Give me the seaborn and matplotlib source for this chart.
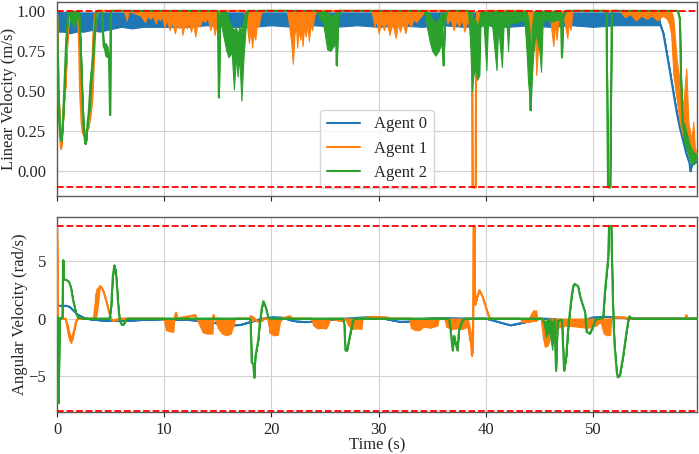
import matplotlib
matplotlib.use("Agg")
import matplotlib.pyplot as plt
import pandas as pd
import seaborn as sns

# ---------------- data (time s, low, high); single value => low == high ----------------
agents = ["Agent 0", "Agent 1", "Agent 2"]
colors = ["#1f77b4", "#ff7f0e", "#2ca02c"]

lin_agent0 = [
    (0.0, 0.95, 1.0), (0.15, 0.87, 1.0), (0.6, 0.87, 0.99), (1.2, 0.86, 1.0), (1.8, 0.87, 0.99),
    (2.5, 0.87, 0.99), (3.2, 0.88, 0.99), (4.0, 0.87, 0.99), (4.6, 0.88, 0.99), (5.3, 0.89, 0.99),
    (6.0, 0.90, 0.99), (7.0, 0.89, 0.99), (8.0, 0.90, 0.99), (9.0, 0.90, 0.99), (10.0, 0.90, 0.99),
    (12.0, 0.90, 0.99), (14.0, 0.91, 0.99), (16.0, 0.90, 0.99), (18.0, 0.90, 0.99), (20.0, 0.91, 0.99),
    (22.0, 0.90, 0.99), (24.0, 0.91, 0.99), (26.0, 0.90, 0.99), (28.0, 0.91, 0.99), (30.0, 0.90, 0.99),
    (32.0, 0.91, 0.99), (34.0, 0.90, 0.99), (36.0, 0.91, 0.99), (38.0, 0.90, 0.99), (40.0, 0.91, 0.99),
    (42.0, 0.90, 0.99), (44.0, 0.91, 0.99), (46.0, 0.90, 0.99), (48.0, 0.91, 0.99), (50.0, 0.90, 0.99),
    (52.0, 0.91, 0.99), (54.0, 0.91, 0.99), (56.1, 0.91, 0.99), (56.3, 0.91), (56.56, 0.86),
    (56.87, 0.74), (57.18, 0.62), (57.5, 0.49), (57.8, 0.37), (58.1, 0.27), (58.4, 0.19),
    (58.7, 0.11), (59.0, 0.05), (59.1, 0.0), (59.2, 0.04), (59.4, 0.05), (59.7, 0.06),
]
lin_agent1 = [
    (0.0, 0.98), (0.05, 0.85), (0.15, 0.5), (0.28, 0.22), (0.37, 0.14), (0.45, 0.2), (0.55, 0.3),
    (0.65, 0.42), (0.8, 0.55), (0.95, 0.8), (1.1, 0.97), (1.2, 0.95, 1.0), (1.6, 0.96, 1.0),
    (1.95, 0.98, 1.0), (2.05, 0.82), (2.15, 0.5), (2.3, 0.3), (2.4, 0.24), (2.55, 0.22), (2.7, 0.25),
    (2.9, 0.27), (3.1, 0.33, 0.45), (3.3, 0.45, 0.85), (3.45, 0.7, 0.98), (3.6, 0.93, 1.0),
    (3.8, 1.0), (6.3, 1.0), (6.5, 0.94, 1.0), (6.7, 1.0), (7.8, 0.97, 1.0),
    (8.2, 0.93, 1.0), (8.45, 0.97, 1.0), (8.7, 0.95, 1.0), (8.95, 0.97, 1.0), (9.2, 0.92, 1.0),
    (9.4, 0.96, 1.0), (9.6, 0.94, 1.0), (9.8, 0.97, 1.0), (10.0, 0.90, 1.0), (10.25, 0.94, 1.0),
    (10.5, 0.88, 1.0), (10.75, 0.93, 1.0), (11.0, 0.86, 1.0), (11.2, 0.92, 1.0), (11.4, 0.89, 1.0),
    (11.55, 0.93, 1.0), (11.7, 0.85, 1.0), (11.9, 0.92, 1.0), (12.1, 0.89, 1.0), (12.3, 0.93, 1.0),
    (12.5, 0.87, 1.0), (12.7, 0.92, 1.0), (12.9, 0.84, 1.0), (13.1, 0.92, 1.0), (13.3, 0.90, 1.0),
    (13.55, 0.95, 1.0), (13.8, 0.93, 1.0), (14.05, 0.96, 1.0), (14.3, 0.88, 1.0), (14.5, 0.93, 1.0),
    (14.7, 0.85, 1.0), (15.0, 0.96, 1.0), (15.3, 1.0), (17.5, 1.0), (17.7, 0.92, 1.0),
    (17.9, 0.80, 1.0), (18.05, 0.88, 1.0), (18.2, 0.77, 1.0), (18.35, 0.86, 1.0), (18.5, 0.82, 1.0),
    (18.65, 0.92, 1.0), (18.8, 0.90, 1.0), (19.0, 0.98, 1.0), (19.2, 1.0), (21.5, 1.0),
    (21.7, 0.88, 1.0), (21.85, 0.80, 1.0), (22.0, 0.67, 1.0), (22.15, 0.85, 1.0), (22.3, 0.90, 1.0),
    (22.4, 0.77, 1.0), (22.55, 0.88, 1.0), (22.7, 0.82, 1.0), (22.8, 0.90, 1.0), (22.9, 0.78, 1.0),
    (23.05, 0.90, 1.0), (23.2, 0.84, 1.0), (23.35, 0.91, 1.0), (23.5, 0.81, 1.0), (23.65, 0.92, 1.0),
    (23.8, 0.88, 1.0), (24.0, 0.97, 1.0), (24.2, 1.0), (29.4, 1.0), (29.6, 0.90, 1.0),
    (29.8, 0.94, 1.0), (30.0, 0.86, 1.0), (30.25, 0.93, 1.0), (30.5, 0.88, 1.0), (30.75, 0.94, 1.0),
    (31.0, 0.85, 1.0), (31.3, 0.92, 1.0), (31.6, 0.83, 1.0), (31.8, 0.92, 1.0), (32.0, 0.87, 1.0),
    (32.25, 0.93, 1.0), (32.5, 0.86, 1.0), (32.75, 0.94, 1.0), (33.0, 0.90, 1.0), (33.25, 0.95, 1.0),
    (33.5, 0.93, 1.0), (34.0, 0.97, 1.0), (34.3, 1.0), (36.2, 1.0), (36.4, 0.92, 1.0),
    (36.7, 0.95, 1.0), (37.0, 0.88, 1.0), (37.25, 0.94, 1.0), (37.5, 0.90, 1.0), (37.75, 0.95, 1.0),
    (38.0, 0.87, 1.0), (38.25, 0.94, 1.0), (38.5, 0.90, 1.0), (38.7, 0.95, 1.0), (38.75, -0.1),
    (39.05, -0.1), (39.1, 0.90, 1.0), (39.5, 0.95, 1.0), (40.0, 1.0), (43.7, 1.0),
    (43.9, 0.85, 1.0), (44.05, 0.92, 1.0), (44.2, 0.70, 1.0), (44.35, 0.88, 1.0), (44.5, 0.75, 1.0),
    (44.6, 0.88, 1.0), (44.7, 0.60, 1.0), (44.9, 0.80, 1.0), (45.2, 0.95, 1.0), (45.5, 1.0),
    (46.0, 0.95, 1.0), (46.3, 0.78, 1.0), (46.45, 0.92, 1.0), (46.6, 0.82, 1.0), (46.8, 0.95, 1.0),
    (47.3, 0.95, 1.0), (47.6, 0.83, 1.0), (47.75, 0.93, 1.0), (47.9, 0.88, 1.0), (48.1, 1.0),
    (52.5, 1.0), (53.0, 0.96, 1.0), (53.5, 0.98, 1.0), (54.0, 0.94, 1.0), (54.5, 0.97, 1.0),
    (55.0, 0.95, 1.0), (55.5, 0.97, 1.0), (56.0, 0.94, 1.0), (56.5, 0.97, 1.0), (56.9, 0.95, 1.0),
    (57.1, 0.92, 1.0), (57.3, 0.85, 1.0), (57.5, 0.60, 0.95), (57.8, 0.45, 0.70), (58.1, 0.30, 0.55),
    (58.4, 0.22, 0.40), (58.7, 0.17, 0.64), (58.9, 0.12, 0.30), (59.2, 0.08, 0.20), (59.35, 0.07, 0.31),
    (59.5, 0.06, 0.15), (59.7, 0.10),
]
lin_agent2 = [
    (0.0, 1.0), (0.08, 0.44), (0.15, 0.3, 0.5), (0.3, 0.22), (0.42, 0.19), (0.55, 0.3), (0.7, 0.55),
    (0.85, 0.8), (1.0, 0.95), (1.1, 1.0), (1.3, 0.93, 1.0), (1.6, 0.90, 1.0), (1.9, 0.95, 1.0),
    (2.05, 1.0), (2.2, 0.8), (2.35, 0.5), (2.5, 0.25), (2.65, 0.17), (2.75, 0.2), (2.85, 0.3),
    (2.95, 0.36), (3.05, 0.38, 0.55), (3.2, 0.55, 0.65), (3.35, 0.7), (3.5, 0.86), (3.65, 0.99),
    (3.8, 1.0), (4.1, 1.0), (4.2, 0.98), (4.35, 0.78), (4.5, 0.72, 0.8), (4.7, 0.71, 0.78),
    (4.85, 0.72), (4.95, 0.35), (5.0, 0.99), (5.1, 1.0), (15.0, 1.0), (15.1, 0.46),
    (15.2, 0.95, 1.0), (15.5, 0.85, 1.0), (15.8, 0.75, 1.0), (16.0, 0.71, 0.95), (16.3, 0.74, 0.9),
    (16.5, 0.51, 0.88), (16.7, 0.72, 0.9), (16.85, 0.59, 0.85), (17.0, 0.72, 0.9), (17.2, 0.44, 0.88),
    (17.4, 0.71, 0.95), (17.6, 0.90, 1.0), (17.8, 1.0), (24.3, 1.0), (24.5, 0.95, 1.0),
    (24.8, 0.93, 1.0), (25.0, 0.85, 1.0), (25.2, 0.76, 1.0), (25.5, 0.75, 0.97), (25.8, 0.78, 0.97),
    (26.0, 0.80, 1.0), (26.1, 0.66), (26.2, 0.95, 1.0), (26.4, 1.0), (34.3, 1.0),
    (34.5, 0.90, 1.0), (34.8, 0.80, 0.98), (35.0, 0.75, 0.95), (35.3, 0.72, 0.93), (35.6, 0.75, 0.95),
    (35.9, 0.80, 1.0), (36.05, 0.66), (36.2, 0.95, 1.0), (36.4, 1.0), (38.4, 1.0),
    (38.55, 0.80, 1.0), (38.7, 0.50, 1.0), (38.85, 0.60, 0.95), (39.0, 0.65, 0.95), (39.2, 0.57, 0.9),
    (39.4, 0.60, 0.95), (39.5, 0.90, 1.0), (39.8, 0.92, 1.0), (40.05, 0.63, 1.0), (40.2, 0.92, 1.0),
    (40.6, 0.90, 1.0), (41.0, 0.63, 1.0), (41.15, 0.90, 1.0), (41.5, 0.65, 1.0), (41.65, 0.90, 1.0),
    (41.95, 0.92, 1.0), (42.07, 0.75, 1.0), (42.2, 0.92, 1.0), (43.0, 0.93, 1.0), (43.6, 0.95, 1.0),
    (43.8, 0.75, 1.0), (43.95, 0.55, 0.95), (44.1, 0.45, 0.85), (44.18, 0.38), (44.3, 0.60, 0.9),
    (44.5, 0.80, 1.0), (44.7, 0.85, 1.0), (45.0, 0.75, 1.0), (45.15, 0.62, 1.0), (45.3, 0.92, 1.0),
    (45.6, 0.95, 1.0), (46.0, 0.93, 1.0), (47.0, 0.95, 1.0), (47.1, 0.71), (47.2, 0.95, 1.0),
    (47.5, 1.0), (51.25, 1.0), (51.4, -0.1), (51.6, -0.1), (51.75, 1.0),
    (57.9, 1.0), (58.1, 0.95), (58.2, 0.6), (58.35, 0.3), (58.5, 0.18, 0.3), (58.8, 0.12, 0.22),
    (59.1, 0.06, 0.15), (59.4, 0.04, 0.12), (59.7, 0.10),
]

ang_agent0 = [
    (0.0, 1.1), (0.9, 1.1), (1.2, 1.0), (1.5, 0.72), (1.8, 0.45), (2.1, 0.26), (2.5, 0.08), (3.0, -0.05),
    (4.0, -0.15), (5.0, -0.2), (6.0, -0.2), (8.0, -0.12), (10.0, -0.05), (12.0, -0.1), (13.5, -0.2),
    (14.5, -0.35), (15.5, -0.5), (16.4, -0.58), (17.1, -0.55), (18.0, -0.3), (19.2, 0.0), (20.1, 0.12),
    (21.0, 0.08), (22.0, -0.2), (23.0, -0.3), (24.5, -0.28), (25.5, -0.1), (27.0, 0.0), (29.0, 0.12),
    (30.0, 0.08), (31.0, -0.1), (32.0, -0.28), (33.0, -0.25), (34.5, 0.0), (36.0, 0.05), (38.0, 0.0),
    (40.0, 0.0), (41.0, -0.25), (42.3, -0.58), (43.5, -0.35), (45.1, 0.0), (46.5, -0.05), (47.5, -0.25),
    (48.5, -0.3), (49.3, -0.1), (50.0, 0.1), (51.0, 0.15), (52.3, 0.1), (53.5, 0.0), (59.7, 0.0),
]
ang_agent1 = [
    (0.0, 8.0), (0.1, 0.0), (0.8, 0.0), (0.9, -0.4), (1.0, -1.3, -0.5), (1.15, -1.9, -1.2),
    (1.3, -2.1, -1.6), (1.45, -1.8, -1.3), (1.6, -1.0), (1.8, -0.2), (1.95, 0.0), (3.45, 0.0),
    (3.55, 0.0, 2.0), (3.7, 0.3, 2.6), (3.85, 1.5, 2.7), (4.0, 2.8), (4.15, 2.7), (4.35, 2.3),
    (4.6, 1.5), (4.85, 0.6), (5.0, 0.1), (5.2, -0.2), (5.5, -0.1), (6.0, 0.0), (10.0, 0.0),
    (10.15, -1.0, 0.0), (10.5, -1.1, 0.0), (10.85, -1.15, 0.0), (10.95, 0.0), (11.1, 0.5), (11.2, 0.0),
    (12.9, 0.3), (13.0, 0.0), (13.6, -1.2, 0.0), (14.0, -1.3, 0.0), (14.5, -1.3, 0.0), (14.6, 0.3),
    (14.7, 0.0), (15.0, -0.8, 0.1), (15.4, -1.3, 0.0), (15.8, -1.45, 0.0), (16.2, -1.3, 0.0),
    (16.5, -0.5, 0.0), (16.6, 0.0), (17.9, 0.0), (18.0, -0.3, 0.3), (18.3, -0.2, 0.2), (18.4, 0.0),
    (18.8, -0.3), (19.1, -0.2), (19.3, 0.0), (19.7, 0.0), (19.8, -1.2, 0.0), (20.2, -1.45, 0.0),
    (20.6, -1.4, 0.0), (20.8, -0.3, 0.0), (21.0, 0.0), (21.7, 0.2), (22.0, 0.0), (23.7, 0.0),
    (23.9, -0.6, 0.0), (24.3, -0.85, 0.0), (24.7, -0.8, 0.0), (25.1, -0.87, 0.0), (25.3, -0.5, 0.0),
    (25.5, 0.0), (26.5, -0.2), (26.9, 0.0), (27.1, -0.5, 0.0), (27.5, -0.9, 0.0), (28.0, -0.85, 0.0),
    (28.4, -0.9, 0.0), (28.5, 0.0), (29.5, 0.15), (30.8, 0.1), (31.0, 0.0), (32.9, 0.0),
    (33.0, -0.8, 0.0), (33.4, -1.0, 0.0), (33.8, -1.0, 0.0), (34.2, -0.7, 0.0), (34.8, -0.8, 0.0),
    (35.5, -0.6, 0.0), (35.6, 0.0), (36.2, 0.0), (36.3, -0.7, 0.0), (36.8, -0.9, 0.0), (37.3, -0.85, 0.0),
    (37.8, -0.9, 0.0), (38.3, -0.7, 0.0), (38.45, -1.8, -0.5), (38.6, -2.3, -1.2), (38.7, -3.2),
    (38.8, -2.5), (38.85, 8.0), (38.95, 8.0), (39.0, 1.2), (39.2, 1.9), (39.4, 2.45), (39.7, 1.9),
    (40.0, 1.0), (40.3, 0.15), (40.5, 0.0), (43.2, 0.0), (43.4, -0.3, 0.0), (44.0, -0.3, 0.0),
    (44.4, -0.2, 0.7), (44.7, -0.2, 0.7), (44.8, 0.0), (45.2, 0.0), (45.3, -1.5, 0.0), (45.5, -2.45, -0.3),
    (45.8, -2.3, 0.0), (46.0, -1.6, 0.0), (46.4, -1.6, 0.0), (46.7, -0.8, 0.0), (47.5, -0.6, 0.0),
    (48.5, -0.7, 0.0), (49.5, -0.8, 0.0), (50.3, -0.6, 0.0), (50.7, -0.3, 0.0), (51.0, -1.3, 0.0),
    (51.3, -1.45, 0.0), (51.6, -1.4, 0.0), (51.7, 0.0), (52.0, 0.1), (53.0, 0.1), (53.2, 0.0),
    (58.6, 0.0), (58.7, 0.3), (58.8, 0.0), (59.7, 0.0),
]
ang_agent2 = [
    (0.0, 0.1), (0.1, 0.1), (0.15, -7.3), (0.25, 0.0), (0.5, 0.1), (0.58, 5.05), (0.65, 3.4),
    (0.95, 3.3), (1.1, 3.2), (1.3, 2.7), (1.5, 1.6), (1.8, 0.4), (1.95, 0.1), (2.5, 0.0), (4.9, 0.0),
    (5.05, 1.0), (5.2, 3.6), (5.35, 4.6), (5.45, 4.2), (5.55, 3.4), (5.7, 1.3), (5.85, -0.2),
    (6.05, -0.55), (6.2, -0.5), (6.4, -0.2), (6.6, 0.0), (18.0, 0.0), (18.06, -0.15), (18.16, -3.8),
    (18.3, -3.9), (18.4, -5.1), (18.5, -3.3), (18.78, -1.8), (18.9, -0.5), (19.1, 0.9), (19.25, 1.5),
    (19.5, 0.9), (19.7, 0.1), (19.9, 0.0), (26.7, 0.0), (26.8, -0.5), (26.9, -2.75), (27.05, -2.75),
    (27.3, -1.6), (27.6, -0.2), (27.8, 0.0), (36.5, 0.0), (36.6, -0.2), (36.75, -1.3), (36.9, -2.75),
    (37.05, -1.5), (37.2, -2.2), (37.35, -2.75), (37.5, -1.0), (37.8, -0.2), (38.0, 0.0), (45.2, 0.0),
    (45.4, -0.2), (45.6, -1.6, -0.2), (45.9, -1.0, 0.0), (46.2, -2.7, -0.3), (46.4, -0.5, 0.0),
    (46.55, -4.5), (46.7, -0.2), (47.1, -0.1), (47.3, -4.5), (47.5, -3.3), (47.7, -0.6), (48.0, 1.9),
    (48.15, 2.8), (48.3, 3.0), (48.6, 2.8), (48.8, 1.9), (49.1, 1.0), (49.25, 0.6), (49.4, -1.15),
    (49.7, -1.3), (50.0, -0.7), (50.2, -0.1), (50.95, 0.1), (51.1, 2.2), (51.3, 4.2), (51.4, 5.05),
    (51.5, 8.0), (51.7, 8.0), (51.8, 3.6), (51.9, 0.0), (52.0, -2.15), (52.2, -4.5), (52.3, -5.07),
    (52.5, -4.9), (52.8, -3.3), (53.1, -1.3), (53.3, -0.1), (53.4, 0.2), (53.6, 0.0), (59.7, 0.0),
]

lin_limits = [1.0, -0.1]
ang_limits = [8.0, -8.0]
lin_ticks = [0.0, 0.25, 0.5, 0.75, 1.0]
ang_ticks = [-5, 0, 5]
time_ticks = [0, 10, 20, 30, 40, 50]


def to_long(rows):
    recs = []
    for r in rows:
        t, lo = r[0], r[1]
        hi = r[2] if len(r) > 2 else r[1]
        recs.append((t, lo))
        recs.append((t, hi))
    return pd.DataFrame(recs, columns=["t", "v"])


# ---------------- style ----------------
sns.set_style("whitegrid", {
    "axes.edgecolor": "0.35",
    "grid.color": "0.82",
    "xtick.bottom": True,
    "ytick.left": False,
    "xtick.color": "0.15",
    "ytick.color": "0.15",
})
plt.rcParams["font.family"] = ["Liberation Serif", "DejaVu Serif"]
plt.rcParams["font.size"] = 12
plt.rcParams["xtick.major.size"] = 3.5
plt.rcParams["axes.linewidth"] = 1.0

W, H = 699, 454
fig = plt.figure(figsize=(W / 100, H / 100), dpi=100)
ax1 = fig.add_axes([57 / W, 1 - 196 / H, 640 / W, 194 / H])
ax2 = fig.add_axes([57 / W, 1 - 412 / H, 640 / W, 195 / H], sharex=ax1)

for ax, series in ((ax1, [lin_agent0, lin_agent1, lin_agent2]),
                   (ax2, [ang_agent0, ang_agent1, ang_agent2])):
    for i, (rows, name, col) in enumerate(zip(series, agents, colors)):
        df = to_long(rows)
        z = 2 + i
        sns.lineplot(data=df, x="t", y="v", estimator="mean", errorbar=("pi", 100),
                     color=col, lw=1.5, label=name, zorder=z, ax=ax,
                     err_kws={"alpha": 1, "lw": 0.8, "zorder": z})

for v in lin_limits:
    ax1.axhline(v, color="red", ls="--", lw=1.3, zorder=6)
for v in ang_limits:
    ax2.axhline(v, color="red", ls="--", lw=1.3, zorder=6)

ax1.set_xlim(0, 59.7)
ax1.set_ylim(-0.155, 1.055)
ax2.set_ylim(-8.07, 8.77)
ax1.set_yticks(lin_ticks)
ax2.set_yticks(ang_ticks)
ax2.set_xticks(time_ticks)
ax1.tick_params(axis="x", labelbottom=False)
ax1.tick_params(axis="y", pad=4.5)
ax2.tick_params(axis="y", pad=4.5)
ax1.set_xlabel("")
ax1.set_ylabel("Linear Velocity (m/s)", fontsize=12, labelpad=0)
ax2.set_ylabel("Angular Velocity (rad/s)", fontsize=12, labelpad=0)
ax2.set_xlabel("Time (s)", fontsize=12, labelpad=0)

ax1.legend(loc="lower center", fontsize=12, framealpha=0.8)
if ax2.get_legend() is not None:
    ax2.get_legend().remove()

fig.savefig("out.png", dpi=100)
